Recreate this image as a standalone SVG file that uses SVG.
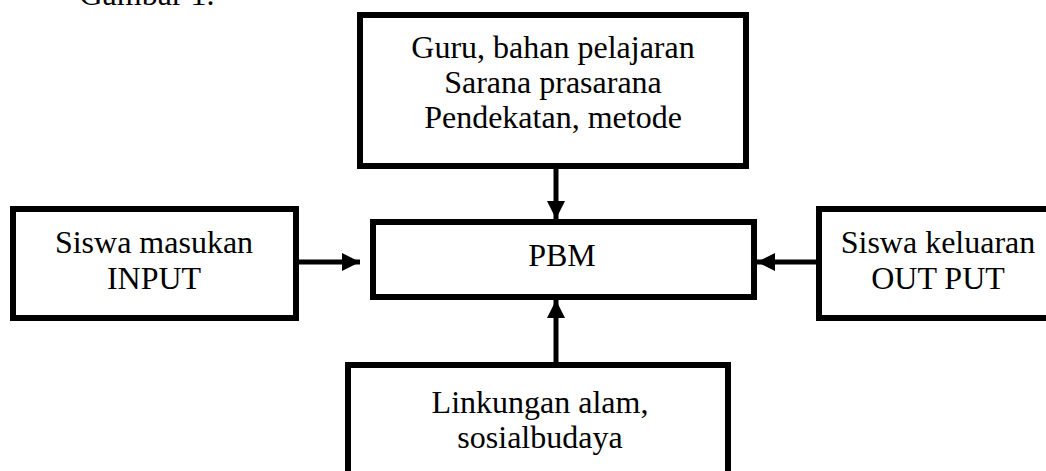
<svg xmlns="http://www.w3.org/2000/svg" width="1046" height="471" viewBox="0 0 1046 471">
<style>
.box{fill:#fff;stroke:#000;stroke-width:6}
.t{font-family:"Liberation Serif","Times New Roman",serif;font-size:32px;fill:#000;text-anchor:middle}
.c{stroke:#000;stroke-width:5;fill:none}
</style>
<defs>
<marker id="ah" viewBox="0 0 10 10" refX="10" refY="5" markerWidth="3.6" markerHeight="3.6" markerUnits="strokeWidth" orient="auto">
<path d="M0,0 L10,5 L0,10 Z" fill="#000"/>
</marker>
</defs>
<rect width="1046" height="471" fill="#fff"/>
<text class="t" x="147" y="5">Gambar 1.</text>
<g id="connectors">
<line class="c" x1="556" y1="169" x2="556" y2="219" marker-end="url(#ah)"/>
<line class="c" x1="299" y1="262" x2="360" y2="262" marker-end="url(#ah)"/>
<line class="c" x1="816" y1="262" x2="757" y2="262" marker-end="url(#ah)"/>
<line class="c" x1="556" y1="362" x2="556" y2="300" marker-end="url(#ah)"/>
</g>
<g id="top">
<rect class="box" x="360" y="15" width="386" height="151"/>
<text class="t" x="553" y="58">Guru, bahan pelajaran</text>
<text class="t" x="553" y="93">Sarana prasarana</text>
<text class="t" x="553" y="128">Pendekatan, metode</text>
</g>
<g id="pbm">
<rect class="box" x="373" y="222" width="381" height="75"/>
<text class="t" x="562" y="266">PBM</text>
</g>
<g id="input">
<rect class="box" x="13" y="209" width="283" height="109"/>
<text class="t" x="154" y="253">Siswa masukan</text>
<text class="t" x="154" y="289">INPUT</text>
</g>
<g id="output">
<rect class="box" x="819" y="209" width="260" height="109"/>
<text class="t" x="938" y="253">Siswa keluaran</text>
<text class="t" x="938" y="289">OUT PUT</text>
</g>
<g id="env">
<rect class="box" x="348" y="365" width="380" height="130"/>
<text class="t" x="540" y="413">Linkungan alam,</text>
<text class="t" x="540" y="448">sosialbudaya</text>
</g>
</svg>
